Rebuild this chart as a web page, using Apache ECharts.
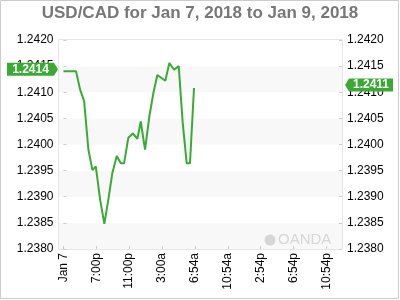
<!DOCTYPE html>
<html>
<head>
<meta charset="utf-8">
<script src="https://cdn.jsdelivr.net/npm/echarts@6/dist/echarts.min.js"></script>
<style>html,body{margin:0;padding:0;background:#fff}#c{width:400px;height:300px}</style>
</head>
<body>
<div id="c"></div>
<script>
// Hours after the "Jan 7" tick
const hours = [0.0,1.54,2.03,2.52,3.04,3.53,3.94,4.46,4.98,5.47,5.96,6.49,6.98,7.38,7.90,8.44,9.00,9.41,9.93,10.46,10.94,11.43,12.40,12.89,13.46,14.03,14.52,15.00,15.40,15.89];
const prices = [1.24140,1.24140,1.24105,1.24083,1.23990,1.23951,1.23958,1.23895,1.23848,1.23895,1.23946,1.23978,1.23964,1.23964,1.24013,1.24021,1.24011,1.24044,1.23990,1.24054,1.24098,1.24133,1.24122,1.24156,1.24143,1.24150,1.24041,1.23964,1.23964,1.24108];
const tickHours = [0,4,8,12,16,20,24,28,32];
const tickLabels = ['Jan 7','7:00p','11:00p','3:00a','6:54a','10:54a','2:54p','6:54p','10:54p'];
const openTag = 1.2414;
const lastTag = 1.2411;
const title = 'USD/CAD for Jan 7, 2018 to Jan 9, 2018';

const xMin = -0.6, xMax = 33.9;
const font = 'Liberation Sans, Arial, sans-serif';
const green = '#3aaa35';

const chart = echarts.init(document.getElementById('c'), null, {renderer:'canvas'});
const yCommon = {
  type:'value', min:1.2380, max:1.2420, interval:0.0005,
  axisLine:{show:false},
  axisTick:{show:true, inside:true, length:3, lineStyle:{color:'#ccc'}},
  splitLine:{show:false},
  axisLabel:{color:'#000', fontFamily:font, fontSize:12, margin:5, formatter:v=>v.toFixed(4)}
};
chart.setOption({
  animation:false,
  title:{text:title, left:'center', top:0, textStyle:{fontFamily:font, fontSize:17, fontWeight:'bold', color:'#777'}},
  grid:{left:58.5, right:58, top:40, bottom:51, show:true, borderColor:'#ccc', borderWidth:1, backgroundColor:'transparent'},
  xAxis:{
    type:'value', min:xMin, max:xMax,
    axisLine:{show:false},
    splitLine:{show:false},
    axisTick:{show:true, inside:true, length:3, customValues:tickHours, lineStyle:{color:'#ccc'}},
    axisLabel:{customValues:tickHours, rotate:90, color:'#000', fontFamily:font, fontSize:12, margin:4,
      formatter:v=>{const i=tickHours.indexOf(Math.round(v)); return i>=0?tickLabels[i]:'';}}
  },
  yAxis:[
    Object.assign({position:'left', splitArea:{show:true, areaStyle:{color:['#f8f8f8','#ffffff']}}}, yCommon),
    Object.assign({position:'right'}, yCommon)
  ],
  graphic:[
    {type:'rect', shape:{x:0.5,y:0.5,width:398,height:298}, style:{fill:'none', stroke:'#ccc', lineWidth:1}, z:100},
    {type:'circle', shape:{cx:270, cy:240, r:5.5}, style:{fill:'#d6d6d6'}, z:100},
    {type:'text', x:278, y:240, style:{text:'OANDA', fill:'#d6d6d6', font:'15px '+font, textVerticalAlign:'middle', verticalAlign:'middle'}, z:100}
  ],
  series:[{
    type:'line', data:hours.map((h,i)=>[h,prices[i]]),
    showSymbol:false, symbol:'none',
    lineStyle:{color:green, width:2},
    markPoint:{
      silent:true,
      data:[
        {coord:[xMin, openTag], value:openTag.toFixed(4),
         symbol:'path://M0,0L47,0L51,6.5L47,13L0,13Z', symbolSize:[51,13], symbolOffset:[-26,-2],
         label:{offset:[-2,0]}},
        {coord:[xMax, lastTag], value:lastTag.toFixed(4),
         symbol:'path://M4,0L48,0L48,13L4,13L0,6.5Z', symbolSize:[48,13], symbolOffset:[27,-2],
         label:{offset:[2,0]}}
      ],
      itemStyle:{color:green},
      label:{show:true, position:'inside', color:'#fff', fontFamily:font, fontSize:12, fontWeight:'bold', formatter:'{c}'}
    }
  }]
});
</script>
</body>
</html>
